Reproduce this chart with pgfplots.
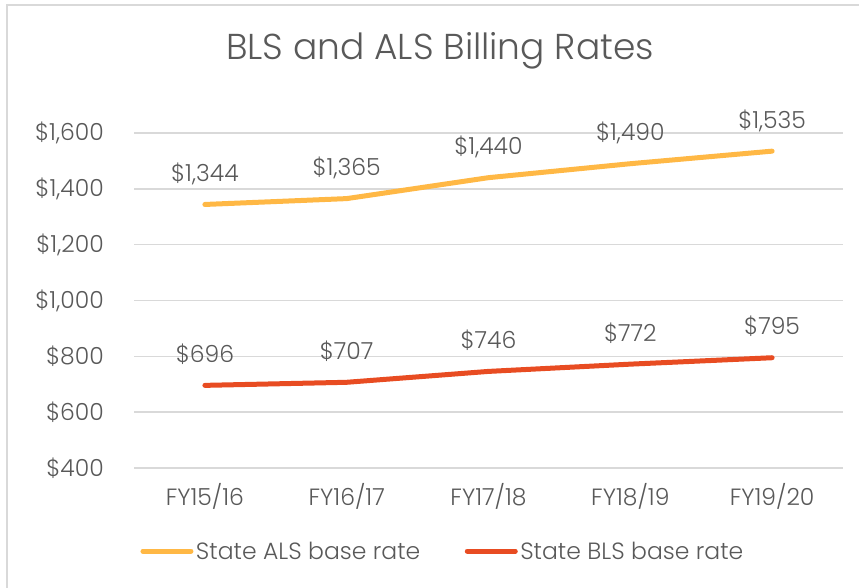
\documentclass[border=0pt]{standalone}
\usepackage{pgfplots}
\pgfplotsset{compat=1.18}
\usepackage{fontspec}
\setmainfont{Poppins Light}
\definecolor{als}{HTML}{FFB845}
\definecolor{bls}{HTML}{E84C22}
\definecolor{txt}{HTML}{595959}
\definecolor{gridc}{HTML}{D9D9D9}
\begin{document}
\begin{tikzpicture}[x=1pt,y=1pt]
\useasboundingbox (0,0) rectangle (859,587);
\draw[gridc, line width=1.5pt] (7,582) rectangle (900,-30);
\node[text=txt, font=\fontsize{36}{42}\selectfont] at (440,536) {BLS and ALS Billing Rates};
\begin{axis}[
  at={(134pt,119pt)}, anchor=south west,
  scale only axis, width=709pt, height=335pt,
  xmin=-0.5, xmax=4.5, ymin=400, ymax=1600,
  ytick={400,600,...,1600}, xtick={0,...,4},
  xticklabels={FY15/16,FY16/17,FY17/18,FY18/19,FY19/20},
  ymajorgrids, grid style={draw=gridc, line width=1.5pt},
  axis line style={draw=none}, major tick length=0pt,
  /pgf/number format/assume math mode=true,
  /pgf/number format/1000 sep={,},
  tick label style={font=\fontsize{23.5}{28}\selectfont, text=txt, inner sep=0pt},
  yticklabel={\$\pgfmathprintnumber{\tick}},
  yticklabel style={anchor=east, xshift=-30pt},
  xticklabel style={anchor=base, yshift=-37pt},
  nodes near coords={\$\pgfmathprintnumber{\pgfplotspointmeta}},
  every node near coord/.append style={anchor=base, yshift=23pt, inner sep=0pt, font=\fontsize{23.5}{28}\selectfont, text=txt},
  legend style={at={(axis description cs:0.436,-0.248)}, anchor=center, draw=none, fill=none,
    font=\fontsize{23.5}{28}\selectfont, text=txt, nodes={inner sep=2.5pt},
    /tikz/every even column/.append style={column sep=42pt}},
  legend columns=2,
  legend image code/.code={\draw[#1, line width=5pt, line cap=round] (0pt,0pt) -- (48pt,0pt);},
]
\addplot[als, line width=5pt, line cap=round, line join=round] coordinates {(0,1344) (1,1365) (2,1440) (3,1490) (4,1535)};
\addlegendentry{State ALS base rate}
\addplot[bls, line width=5pt, line cap=round, line join=round] coordinates {(0,696) (1,707) (2,746) (3,772) (4,795)};
\addlegendentry{State BLS base rate}
\end{axis}
\end{tikzpicture}
\end{document}
